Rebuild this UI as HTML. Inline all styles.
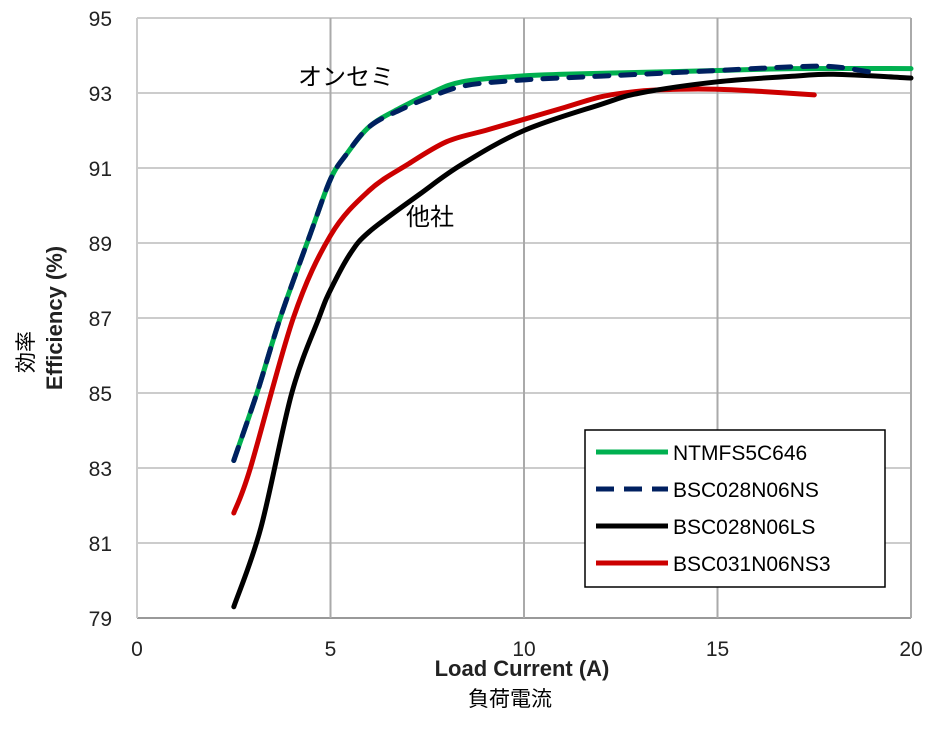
<!DOCTYPE html>
<html><head><meta charset="utf-8"><style>
body{margin:0;background:#fff;}
svg text{font-family:"Liberation Sans","Noto Sans CJK JP",sans-serif;}
</style></head><body>
<svg id="chart" width="939" height="729" xmlns="http://www.w3.org/2000/svg">
<g id="grid"></g>
<g id="series"></g>
<g id="ticks"></g>
<text x="298" y="85" font-size="24" fill="#000">オンセミ</text>
<text x="406" y="225" font-size="24" fill="#000">他社</text>
<text x="522" y="676" font-size="22" font-weight="bold" text-anchor="middle" fill="#222">Load Current (A)</text>
<text x="510" y="706" font-size="21" text-anchor="middle" fill="#000">負荷電流</text>
<text transform="translate(62,318) rotate(-90)" font-size="22" font-weight="bold" text-anchor="middle" fill="#222">Efficiency (%)</text>
<text transform="translate(33,352) rotate(-90)" font-size="21" text-anchor="middle" fill="#000">効率</text>
<g id="legend">
<rect x="585" y="430" width="300" height="157" fill="#fff" stroke="#000" stroke-width="1.5"/>
</g>
</svg>
<script>
const xTicks=[0,5,10,15,20];
const yTicks=[79,81,83,85,87,89,91,93,95];
const seriesNames=["NTMFS5C646","BSC028N06NS","BSC028N06LS","BSC031N06NS3"];
const greenX=[2.5,3.1,3.7,4.5,5.0,5.4,6,6.8,7.6,8.4,9.9,11,13,15,17,20];
const greenY=[83.2,85,87,89.3,90.7,91.35,92.1,92.6,93.0,93.3,93.45,93.5,93.55,93.6,93.65,93.65];
const blueX=[2.5,3.1,3.7,4.5,5.0,5.4,6,6.8,7.6,8.5,10,12,15,17,18,19];
const blueY=[83.2,85,87,89.3,90.7,91.35,92.1,92.55,92.9,93.2,93.35,93.45,93.6,93.7,93.7,93.55];
const blackX=[2.5,3.2,4.0,4.7,5,5.5,6,7.3,8.4,10,12,13,15,17,18,20];
const blackY=[79.3,81.4,85,87,87.75,88.7,89.3,90.3,91.1,92.0,92.7,93.0,93.3,93.45,93.5,93.4];
const redX=[2.5,2.93,4.04,5,6,7,8,9,10,11,12,13,14,15,16,17.5];
const redY=[81.8,83,87,89.2,90.4,91.1,91.7,92.0,92.3,92.6,92.9,93.05,93.1,93.1,93.05,92.95];
const NS="http://www.w3.org/2000/svg";
const X0=137,X1=911,Y0=618,Y1=18;
function sx(v){return X0+(v-0)/(20-0)*(X1-X0);}
function sy(v){return Y0-(v-79)/(95-79)*(Y0-Y1);}
function mk(t,a,p){const e=document.createElementNS(NS,t);for(const k in a)e.setAttribute(k,a[k]);p.appendChild(e);return e;}
const grid=document.getElementById('grid'),ticks=document.getElementById('ticks'),ser=document.getElementById('series'),leg=document.getElementById('legend');
yTicks.forEach(v=>{
 const l=mk('line',{x1:X0,x2:X1,y1:sy(v),y2:sy(v),stroke:(v===79?'#999':'#ccc'),'stroke-width':2},grid);
 
 
 const t=mk('text',{x:112,y:sy(v)+8,'font-size':21,'text-anchor':'end',fill:'#222'},ticks);t.textContent=v;
 
 
});
xTicks.forEach(v=>{
 const l=mk('line',{x1:sx(v),x2:sx(v),y1:Y1,y2:Y0,stroke:(v===0?'#ccc':'#aaa'),'stroke-width':2},grid);
 
 
 const t=mk('text',{x:sx(v),y:656,'font-size':21,'text-anchor':'middle',fill:'#222'},ticks);t.textContent=v;
 
 
});
function line(xs,ys,col,dash,name){
 const P=xs.map((x,i)=>[sx(x),sy(ys[i])]);
 let d='M'+P[0][0].toFixed(1)+','+P[0][1].toFixed(1);
 for(let i=0;i<P.length-1;i++){
  const p0=P[Math.max(0,i-1)],p1=P[i],p2=P[i+1],p3=P[Math.min(P.length-1,i+2)];
  const c1=[p1[0]+(p2[0]-p0[0])/6,p1[1]+(p2[1]-p0[1])/6];
  const c2=[p2[0]-(p3[0]-p1[0])/6,p2[1]-(p3[1]-p1[1])/6];
  d+='C'+c1[0].toFixed(1)+','+c1[1].toFixed(1)+' '+c2[0].toFixed(1)+','+c2[1].toFixed(1)+' '+p2[0].toFixed(1)+','+p2[1].toFixed(1);
 }
 const p=mk('path',{d:d,fill:'none',stroke:col,'stroke-width':5,'stroke-linejoin':'round','stroke-linecap':'round'},ser);
 if(dash)p.setAttribute('stroke-dasharray',dash);
 
 
}
line(greenX,greenY,'#00b050',null,'series-ntmfs5c646');
line(redX,redY,'#cc0000',null,'series-bsc031n06ns3');
line(blackX,blackY,'#000',null,'series-bsc028n06ls');
line(blueX,blueY,'#002060','14,12','series-bsc028n06ns');
const cols=['#00b050','#002060','#000','#cc0000'];
seriesNames.forEach((n,i)=>{
 const y=452+i*37;
 const l=mk('line',{x1:596,x2:668,y1:y,y2:y,stroke:cols[i],'stroke-width':5},leg);
 if(i===1)l.setAttribute('stroke-dasharray','18,10');
 
 
 const t=mk('text',{x:673,y:y+8,'font-size':21,fill:'#000'},leg);t.textContent=n;
 
 
});
</script>
</body></html>
